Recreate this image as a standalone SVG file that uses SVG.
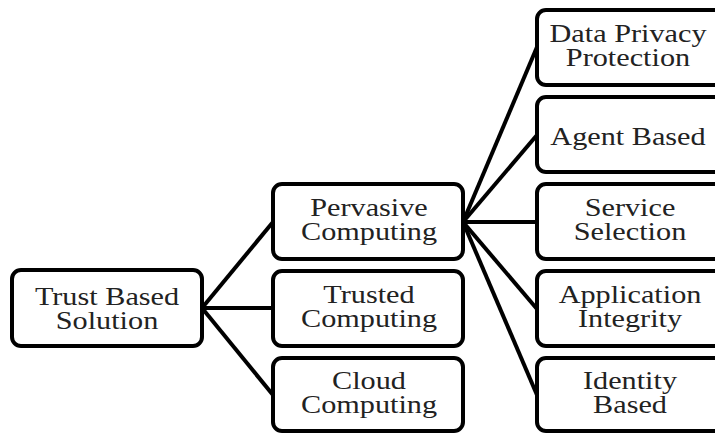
<svg xmlns="http://www.w3.org/2000/svg" width="715" height="433" viewBox="0 0 715 433">
<style>
.box{fill:#fff;stroke:#000;stroke-width:4}
.lbl{font-family:"Liberation Serif","Times New Roman",serif;font-size:25px;fill:#222;text-anchor:middle}
.conn line{stroke:#000;stroke-width:4}
</style>
<rect width="715" height="433" fill="#fff"/>
<g class="conn" id="connectors">
<line x1="202" y1="308" x2="273" y2="222"/>
<line x1="202" y1="308" x2="273" y2="308"/>
<line x1="202" y1="308" x2="273" y2="395"/>
<line x1="463" y1="222" x2="537" y2="47"/>
<line x1="463" y1="222" x2="537" y2="135"/>
<line x1="463" y1="222" x2="537" y2="222"/>
<line x1="463" y1="222" x2="537" y2="309"/>
<line x1="463" y1="222" x2="537" y2="395"/>
</g>
<g id="trust">
<rect class="box" x="12" y="270" width="190" height="76" rx="9"/>
<text class="lbl" transform="translate(107,0) scale(1.21,1)"><tspan x="0" y="305">Trust Based</tspan><tspan x="0" y="329">Solution</tspan></text>
</g>
<g id="pervasive">
<rect class="box" x="273" y="184" width="190" height="75" rx="9"/>
<text class="lbl" transform="translate(369,0) scale(1.21,1)"><tspan x="0" y="216">Pervasive</tspan><tspan x="0" y="240">Computing</tspan></text>
</g>
<g id="trusted">
<rect class="box" x="273" y="271" width="190" height="75" rx="9"/>
<text class="lbl" transform="translate(369,0) scale(1.21,1)"><tspan x="0" y="303">Trusted</tspan><tspan x="0" y="327">Computing</tspan></text>
</g>
<g id="cloud">
<rect class="box" x="273" y="358" width="190" height="73" rx="9"/>
<text class="lbl" transform="translate(369,0) scale(1.21,1)"><tspan x="0" y="389">Cloud</tspan><tspan x="0" y="413">Computing</tspan></text>
</g>
<g id="privacy">
<rect class="box" x="537" y="10" width="186" height="75" rx="9"/>
<text class="lbl" transform="translate(628,0) scale(1.21,1)"><tspan x="0" y="42">Data Privacy</tspan><tspan x="0" y="66">Protection</tspan></text>
</g>
<g id="agent">
<rect class="box" x="537" y="97" width="186" height="75" rx="9"/>
<text class="lbl" transform="translate(628,0) scale(1.21,1)" x="0" y="145">Agent Based</text>
</g>
<g id="service">
<rect class="box" x="537" y="184" width="186" height="75" rx="9"/>
<text class="lbl" transform="translate(630,0) scale(1.21,1)"><tspan x="0" y="216">Service</tspan><tspan x="0" y="240">Selection</tspan></text>
</g>
<g id="application">
<rect class="box" x="537" y="271" width="186" height="75" rx="9"/>
<text class="lbl" transform="translate(630,0) scale(1.21,1)"><tspan x="0" y="303">Application</tspan><tspan x="0" y="327">Integrity</tspan></text>
</g>
<g id="identity">
<rect class="box" x="537" y="358" width="186" height="73" rx="9"/>
<text class="lbl" transform="translate(630,0) scale(1.21,1)"><tspan x="0" y="389">Identity</tspan><tspan x="0" y="413">Based</tspan></text>
</g>
</svg>
